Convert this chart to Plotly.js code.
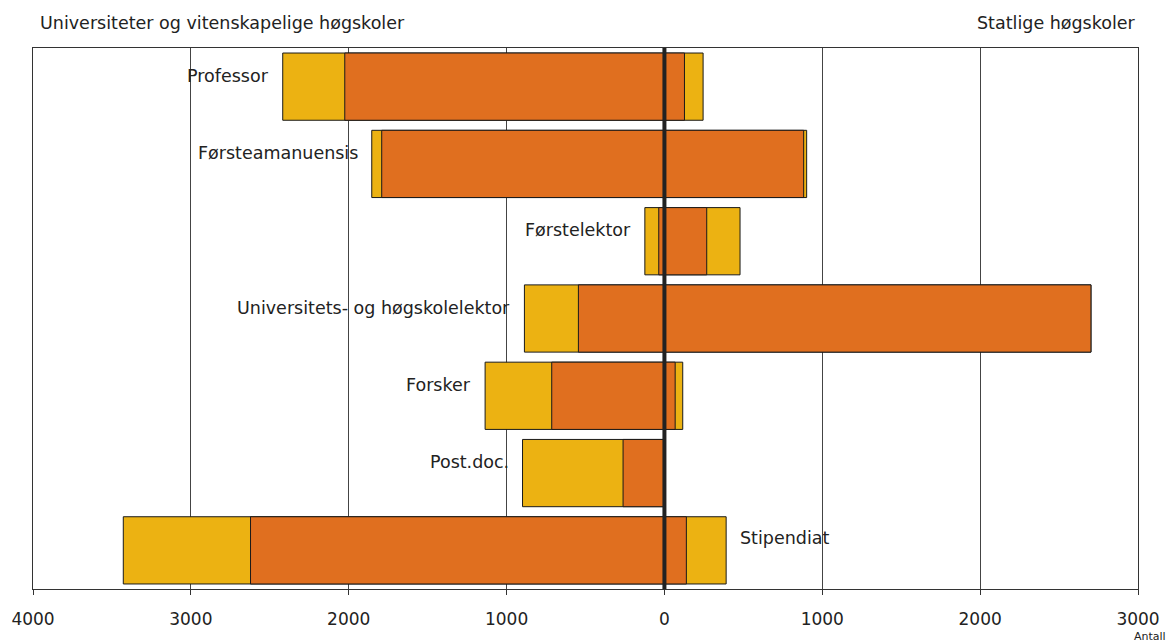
<!DOCTYPE html>
<html>
<head>
<meta charset="utf-8">
<script src="https://cdn.plot.ly/plotly-3.0.1.min.js"></script>
<style>html,body{margin:0;padding:0;background:#fff;}#chart{width:1174px;height:643px;}</style>
</head>
<body>
<div id="chart"></div>
<script>
// Categories (top to bottom)
const categories = ["Professor", "Førsteamanuensis", "Førstelektor", "Universitets- og høgskolelektor", "Forsker", "Post.doc.", "Stipendiat"];
// Universiteter og vitenskapelige høgskoler (drawn to the left)
const uniTotal  = [2418, 1854, 124, 887, 1136, 899, 3428];
const uniOrange = [2025, 1791, 36, 545, 714, 262, 2622];
// Statlige høgskoler (drawn to the right)
const hsTotal   = [245, 901, 479, 2702, 116, 0, 391];
const hsOrange  = [127, 882, 268, 2702, 68, 0, 139];
// Axis ticks
const tickVals  = [-4000, -3000, -2000, -1000, 0, 1000, 2000, 3000];
const tickText  = ["4000", "3000", "2000", "1000", "0", "1000", "2000", "3000"];
const leftTitle = "Universiteter og vitenskapelige høgskoler";
const rightTitle = "Statlige høgskoler";
const unitLabel = "Antall";

const YELLOW = "#ECB212", ORANGE = "#E06F1F", INK = "#222";
const FONT = "DejaVu Sans, Liberation Sans, sans-serif";
const barW = 0.87;
const outline = {color: "#1a1a1a", width: 1};

function barTrace(vals, color, sign) {
  return {
    type: "bar", orientation: "h",
    y: categories, x: vals.map(v => sign * v),
    width: barW,
    marker: {color: color, line: outline},
    hoverinfo: "skip", showlegend: false
  };
}

const data = [
  barTrace(uniTotal, YELLOW, -1),
  barTrace(hsTotal, YELLOW, 1),
  barTrace(uniOrange, ORANGE, -1),
  barTrace(hsOrange, ORANGE, 1)
];

const annotations = categories.map((c, i) => {
  const right = uniTotal[i] > 3000;
  return {
    x: right ? hsTotal[i] : -uniTotal[i], y: c, xref: "x", yref: "y",
    text: c, showarrow: false,
    xanchor: right ? "left" : "right", yanchor: "middle",
    xshift: right ? 12 : -12, yshift: right ? 12 : 11,
    font: {family: FONT, size: 17.5, color: INK}
  };
});
annotations.push(
  {xref: "paper", yref: "paper", x: 0, y: 1, xanchor: "left", yanchor: "bottom", xshift: 5, yshift: 13,
   text: leftTitle, showarrow: false, font: {family: FONT, size: 17.5, color: INK}},
  {xref: "paper", yref: "paper", x: 1, y: 1, xanchor: "right", yanchor: "bottom", xshift: 0, yshift: 13,
   text: rightTitle, showarrow: false, font: {family: FONT, size: 17.5, color: INK}},
  {xref: "paper", yref: "paper", x: 1, y: 0, xanchor: "left", yanchor: "bottom", xshift: -6, yshift: -56,
   text: unitLabel, showarrow: false, font: {family: FONT, size: 11, color: INK}}
);

const layout = {
  width: 1174, height: 643,
  margin: {l: 33, r: 36, t: 48, b: 54, pad: 0},
  paper_bgcolor: "#fff", plot_bgcolor: "#fff",
  barmode: "overlay",
  showlegend: false,
  font: {family: FONT, size: 17, color: INK},
  xaxis: {
    range: [-4000, 3000], tickvals: tickVals, ticktext: tickText,
    showgrid: true, gridcolor: "#444", gridwidth: 1,
    zeroline: false, showline: true, mirror: true, linecolor: "#333", linewidth: 1,
    ticks: "outside", ticklen: 5, tickcolor: "#333", ticklabelstandoff: 10,
    tickfont: {family: FONT, size: 17, color: INK}, fixedrange: true
  },
  yaxis: {
    type: "category", categoryorder: "array", categoryarray: categories,
    autorange: "reversed", showticklabels: false, showgrid: false, zeroline: false,
    showline: true, mirror: true, linecolor: "#333", linewidth: 1, ticks: "", fixedrange: true
  },
  shapes: [{
    type: "line", xref: "x", yref: "paper", x0: 0, x1: 0, y0: 0, y1: 1,
    line: {color: INK, width: 4}, layer: "above"
  }],
  annotations: annotations
};

Plotly.newPlot("chart", data, layout, {staticPlot: true, displayModeBar: false});
</script>
</body>
</html>
